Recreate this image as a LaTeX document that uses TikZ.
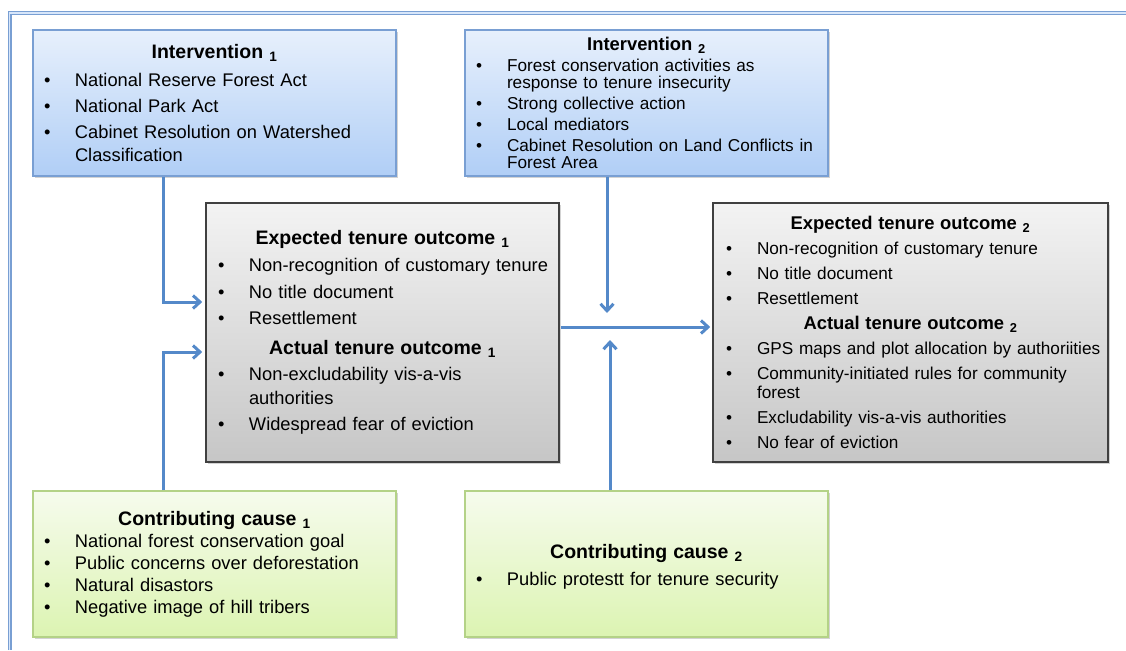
\documentclass[tikz,border=0pt]{standalone}
\usepackage{fontspec}
\setmainfont{Liberation Sans}
\usetikzlibrary{shadows, arrows.meta, positioning, calc}

\definecolor{ivtop}{RGB}{231,240,252}
\definecolor{ivbot}{RGB}{176,206,246}
\definecolor{ivline}{RGB}{121,159,211}
\definecolor{outtop}{RGB}{243,243,243}
\definecolor{outbot}{RGB}{198,198,198}
\definecolor{outline}{RGB}{64,64,64}
\definecolor{cctop}{RGB}{246,251,237}
\definecolor{ccbot}{RGB}{220,244,178}
\definecolor{ccline}{RGB}{180,210,135}
\definecolor{flowblue}{RGB}{84,137,201}

\newlength{\bulx}
\newcommand{\hdr}[2]{{\centering\titfont #1 \textsubscript{#2}\par}}
\newcommand{\itm}[1]{\par\hangindent=\dimexpr\bulx+31pt\relax\hangafter=1\noindent
  \hspace*{\bulx}\makebox[31pt][l]{\textbullet}#1\par}

\begin{document}
\begin{tikzpicture}[x=1pt,y=-1pt,
    box/.style={rectangle, inner xsep=2pt, inner ysep=0pt, align=left,
      drop shadow={shadow xshift=2pt,shadow yshift=-2pt,opacity=0.35}},
    body/.style n args={5}{font=\fontsize{#1}{#2}\selectfont,
      execute at begin node={\setlength\parskip{#3}\hyphenpenalty=10000
        \setlength\bulx{#5}\def\titfont{\fontsize{#4}{#2}\selectfont\bfseries}}},
    ivbox/.style={box, draw=ivline, line width=1.3pt, top color=ivtop, bottom color=ivbot},
    outbox/.style={box, draw=outline, line width=1.6pt, top color=outtop, bottom color=outbot},
    ccbox/.style={box, draw=ccline, line width=1.3pt, top color=cctop, bottom color=ccbot},
    arr/.style={draw=flowblue, line width=3pt, -{Straight Barb[length=7pt,width=13pt]}}]

  \useasboundingbox (0,0) rectangle (1126,650);
  \draw[draw=ivline, line width=1.4pt, double=ivtop!70!ivbot, double distance=1.2pt] (9.5,650) -- (9.5,13) -- (1126,13);

  \node[ivbox, body={18.3}{23}{3pt}{19.5}{9pt}, minimum width=363pt, minimum height=146pt, text width=359pt] (int1) at (214.5,103) {%
    \hdr{Intervention}{1}\vspace{2pt}
    \itm{National Reserve Forest Act}
    \itm{National Park Act}
    \itm{Cabinet Resolution on Watershed\newline Classification}};

  \node[ivbox, body={17.2}{17}{4pt}{18.4}{9pt}, minimum width=363pt, minimum height=146pt, text width=359pt] (int2) at (646.5,103) {%
    \hdr{Intervention}{2}
    \itm{Forest conservation activities as\newline response to tenure insecurity}
    \itm{Strong collective action}
    \itm{Local mediators}
    \itm{Cabinet Resolution on Land Conflicts in\newline Forest Area}};

  \node[outbox, body={18.3}{23.5}{3pt}{19.5}{10pt}, minimum width=353pt, minimum height=259pt, text width=349pt] (exp1) at (382.5,332.5) {%
    \hdr{Expected tenure outcome}{1}\vspace{1pt}
    \itm{Non-recognition of customary tenure}
    \itm{No title document}
    \itm{Resettlement}
    \vspace{3pt}\hdr{Actual tenure outcome}{1}
    \itm{Non-excludability vis-a-vis\newline authorities}
    \itm{Widespread fear of eviction}};

  \node[outbox, body={17.2}{19.5}{5.5pt}{18.4}{11pt}, minimum width=395pt, minimum height=259pt, text width=391pt] (exp2) at (910.5,332.5) {%
    \hdr{Expected tenure outcome}{2}
    \itm{Non-recognition of customary tenure}
    \itm{No title document}
    \itm{Resettlement}
    \hdr{Actual tenure outcome}{2}
    \itm{GPS maps and plot allocation by authoriities}
    \itm{Community-initiated rules for community\newline forest}
    \itm{Excludability vis-a-vis authorities}
    \itm{No fear of eviction}};

  \node[ccbox, body={18.3}{22}{0pt}{19.5}{9pt}, minimum width=363pt, minimum height=146pt, text width=359pt] (con1) at (214.5,564) {%
    \hdr{Contributing cause}{1}
    \itm{National forest conservation goal}
    \itm{Public concerns over deforestation}
    \itm{Natural disastors}
    \itm{Negative image of hill tribers}};

  \node[ccbox, body={18.3}{22}{5pt}{19.5}{9pt}, minimum width=363pt, minimum height=146pt, text width=359pt] (con2) at (646.5,564) {%
    \hdr{\rule{0pt}{20pt}Contributing cause}{2}
    \itm{Public protestt for tenure security}};

  \coordinate (k1) at (163,302);
  \coordinate (k2) at (163,352);
  \coordinate (m) at (560,327);
  \coordinate (j1) at (607,313);
  \coordinate (j2) at (610,340);

  \draw[arr, shorten >=3pt] (int1.south -| k1) |- (exp1.west |- k1);
  \draw[arr, shorten >=3pt] (con1.north -| k2) |- (exp1.west |- k2);
  \draw[arr, shorten >=2pt, shorten <=1pt] (exp1.east |- m) -- (exp2.west |- m);
  \draw[arr] (int2.south -| j1) -- (j1);
  \draw[arr] (con2.north -| j2) -- (j2);

\end{tikzpicture}
\end{document}
